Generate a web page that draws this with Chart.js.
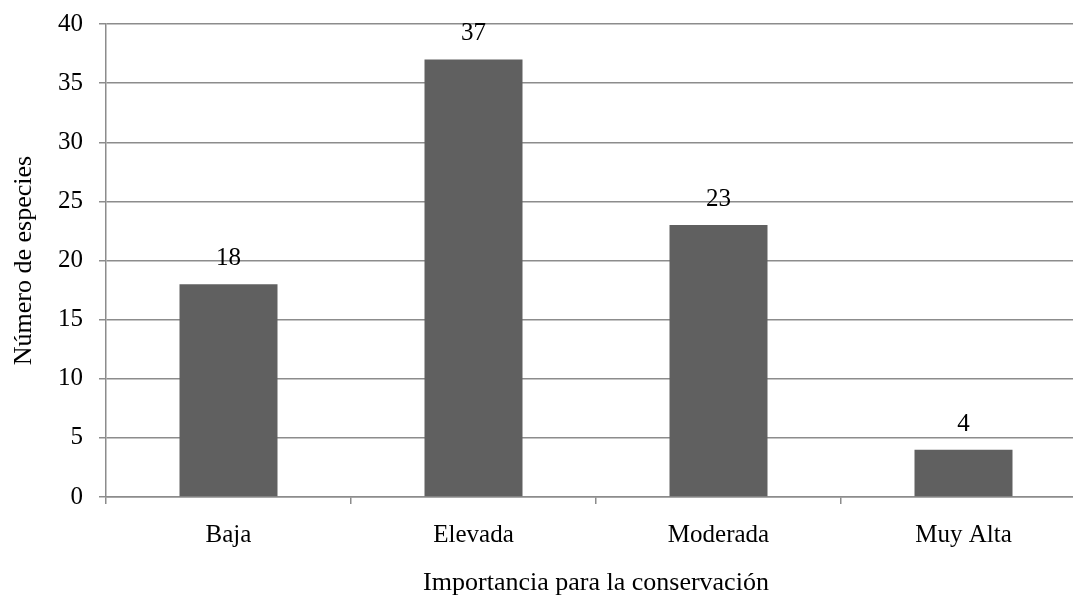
<!DOCTYPE html>
<html>
<head>
<meta charset="utf-8">
<script src="https://cdn.jsdelivr.net/npm/chart.js@4/dist/chart.umd.min.js"></script>
<style>
  html, body { margin: 0; padding: 0; background: #fff; overflow: hidden; }
  #caja { width: 1100px; height: 596px; }
</style>
</head>
<body>
<div id="caja"><canvas id="grafico"></canvas></div>
<script>
const categorias = ["Baja", "Elevada", "Moderada", "Muy Alta"];
const especies = [18, 37, 23, 4];
const tituloX = "Importancia para la conservación";
const tituloY = "Número de especies";

const COR_BARRA = "#606060";
const COR_GRADE = "#8c8c8c";
const FONTE = "'Liberation Serif', 'Times New Roman', serif";

// rótulos em cima das barras
const rotulos = {
    id: "rotulos",
    afterDatasetsDraw(chart) {
        const ctx = chart.ctx;
        const meta = chart.getDatasetMeta(0);
        ctx.save();
        ctx.font = "25px " + FONTE;
        ctx.fillStyle = "#000";
        ctx.textAlign = "center";
        ctx.textBaseline = "alphabetic";
        meta.data.forEach((bar, i) => {
            ctx.fillText(String(especies[i]), bar.x, bar.y - 19);
        });
        ctx.restore();
    }
};

new Chart(document.getElementById("grafico"), {
    type: "bar",
    data: {
        labels: categorias,
        datasets: [{
            data: especies,
            backgroundColor: COR_BARRA,
            categoryPercentage: 1,
            barPercentage: 0.4
        }]
    },
    options: {
        responsive: true,
        maintainAspectRatio: false,
        animation: false,
        layout: { padding: { top: 24, right: 14, left: 0, bottom: 0 } },
        plugins: { legend: { display: false }, tooltip: { enabled: false } },
        scales: {
            x: {
                afterFit: s => { s.height = 99; },
                grid: { drawOnChartArea: false, color: COR_GRADE, tickLength: 7, lineWidth: 1.5 },
                border: { color: COR_GRADE, width: 1.5 },
                ticks: { color: "#000", font: { family: FONTE, size: 25 }, padding: 16 },
                title: { display: true, text: tituloX, color: "#000", font: { family: FONTE, size: 26, lineHeight: 1 }, padding: { top: 0, bottom: 0 } }
            },
            y: {
                min: 0, max: 40,
                afterFit: s => { s.width = 106; s.paddingTop = 0; s.paddingBottom = 0; },
                grid: { color: COR_GRADE, tickLength: 7, lineWidth: 1.5 },
                border: { color: COR_GRADE, width: 1.5 },
                ticks: { stepSize: 5, color: "#000", font: { family: FONTE, size: 25 }, padding: 16 },
                title: { display: true, text: tituloY, color: "#000", font: { family: FONTE, size: 26, lineHeight: 1 }, padding: { top: 11, bottom: 0 } }
            }
        }
    },
    plugins: [rotulos]
});
</script>
</body>
</html>
